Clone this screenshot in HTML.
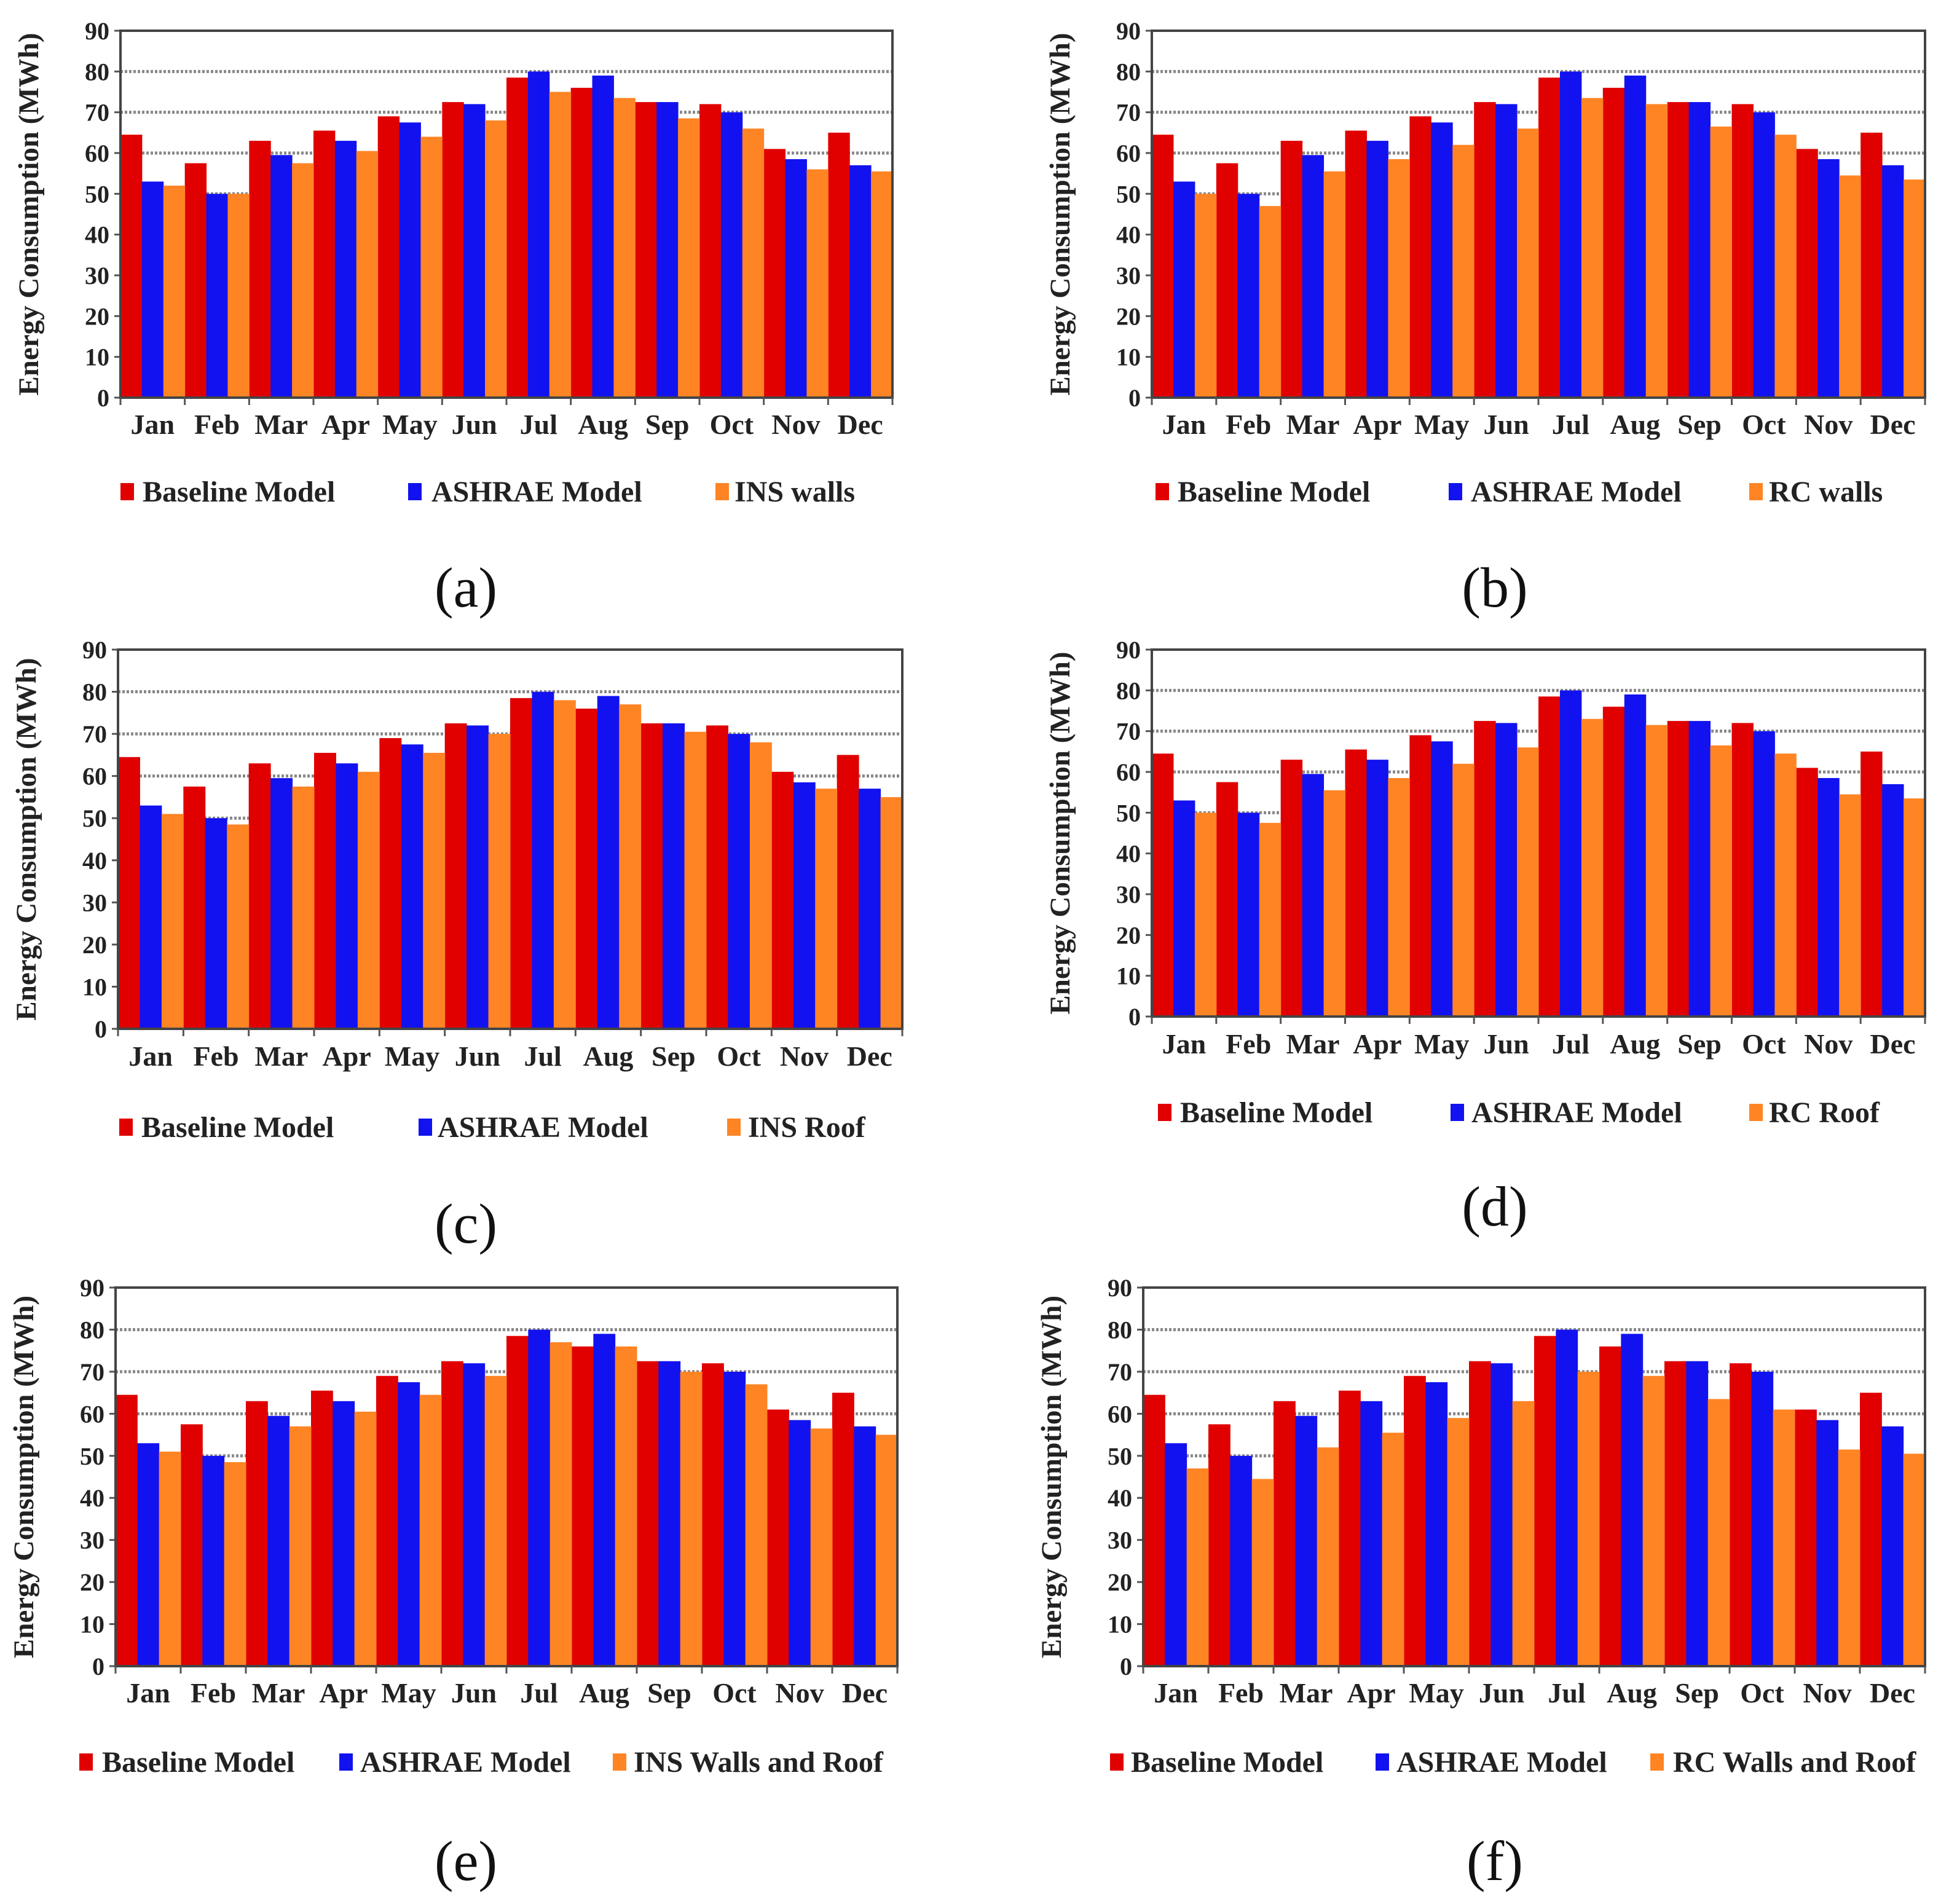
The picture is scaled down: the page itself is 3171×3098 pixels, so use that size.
<!DOCTYPE html>
<html><head><meta charset="utf-8"><style>
html,body{margin:0;padding:0;background:#fff}
svg{display:block}
text{font-family:"Liberation Serif",serif}
</style></head><body>
<svg id="fig" width="3171" height="3098" viewBox="0 0 3171 3098" xmlns="http://www.w3.org/2000/svg"></svg>
<script>
const months = ["Jan","Feb","Mar","Apr","May","Jun","Jul","Aug","Sep","Oct","Nov","Dec"];
const yTicks = [0,10,20,30,40,50,60,70,80,90];
const baseline = [64.5,57.5,63,65.5,69,72.5,78.5,76,72.5,72,61,65];
const ashrae = [53,50,59.5,63,67.5,72,80,79,72.5,70,58.5,57];
const insWalls = [52,50,57.5,60.5,64,68,75,73.5,68.5,66,56,55.5];
const rcWalls = [50,47,55.5,58.5,62,66,73.5,72,66.5,64.5,54.5,53.5];
const insRoof = [51,48.5,57.5,61,65.5,70,78,77,70.5,68,57,55];
const rcRoof = [50,47.5,55.5,58.5,62,66,73,71.5,66.5,64.5,54.5,53.5];
const insWallsRoof = [51,48.5,57,60.5,64.5,69,77,76,70,67,56.5,55];
const rcWallsRoof = [47,44.5,52,55.5,59,63,70,69,63.5,61,51.5,50.5];

const panels = [
 {id:"a",x0:196,x1:1452,y0:50,y1:647,third:insWalls,name:"INS  walls",leg:[[196,232],[664,702],[1164,1195]],legY:800,capX:758,capY:955,monY:690},
 {id:"b",x0:1874,x1:3132,y0:50,y1:647,third:rcWalls,name:"RC walls",leg:[[1880,1916],[2357,2393],[2846,2878]],legY:800,capX:2432,capY:955,monY:690},
 {id:"c",x0:192,x1:1468,y0:1057,y1:1674,third:insRoof,name:"INS Roof",leg:[[194,230],[681,712],[1183,1217]],legY:1834,capX:758,capY:1990,monY:1718},
 {id:"d",x0:1874,x1:3132,y0:1057,y1:1654,third:rcRoof,name:"RC Roof",leg:[[1884,1920],[2360,2394],[2846,2878]],legY:1810,capX:2432,capY:1962,monY:1698},
 {id:"e",x0:188,x1:1460,y0:2095,y1:2711,third:insWallsRoof,name:"INS Walls and Roof",leg:[[129,166],[552,586],[997,1031]],legY:2867,capX:758,capY:3027,monY:2754},
 {id:"f",x0:1860,x1:3132,y0:2095,y1:2711,third:rcWallsRoof,name:"RC Walls and Roof",leg:[[1806,1840],[2238,2272],[2685,2722]],legY:2867,capX:2432,capY:3027,monY:2754}
];
const colors = ["#e00000","#1212f0","#ff8424"];
const NS = "http://www.w3.org/2000/svg";
const svg = document.getElementById("fig");
function mk(tag, attrs, parent){const e=document.createElementNS(NS,tag);for(const k in attrs)e.setAttribute(k,attrs[k]);(parent||svg).appendChild(e);return e;}

panels.forEach(p=>{
  const g = mk("g",{});
  
  
  const yScale = v => p.y1 - (v/90)*(p.y1-p.y0);
  const gw = (p.x1-p.x0)/12;
  const xBand = i => p.x0 + i*gw;
  yTicks.forEach(t=>{
    if(t>0 && t<90){
      const l = mk("line",{x1:p.x0,x2:p.x1,y1:yScale(t),y2:yScale(t),stroke:"#888","stroke-width":5,"stroke-dasharray":"4,3"},g);
      
      
    }
    const tl = mk("text",{x:p.x0-18,y:yScale(t)+14,"text-anchor":"end","font-size":40,"font-weight":"bold",fill:"#222"},g);
    tl.textContent = t;
    
    
    const tk = mk("line",{x1:p.x0-10,x2:p.x0,y1:yScale(t),y2:yScale(t),stroke:"#555","stroke-width":3},g);
    
    
  });
  const series = [baseline, ashrae, p.third];
  series.forEach((s,si)=>{
    s.forEach((v,i)=>{
      const r = mk("rect",{x:xBand(i)+si*gw/3,y:yScale(v),width:gw/3+0.5,height:yScale(0)-yScale(v),fill:colors[si]},g);
      
      
    });
  });
  const fr = mk("rect",{x:p.x0,y:p.y0,width:p.x1-p.x0,height:p.y1-p.y0,fill:"none",stroke:"#444","stroke-width":4},g);
  
  
  months.forEach((m,i)=>{
    const tk = mk("line",{x1:xBand(i),x2:xBand(i),y1:p.y1,y2:p.y1+12,stroke:"#555","stroke-width":3},g);
    
    
    const t = mk("text",{x:xBand(i)+gw/2,y:p.monY+16,"text-anchor":"middle","font-size":46,"font-weight":"bold",fill:"#222"},g);
    t.textContent = m;
    
    
  });
  const tkEnd = mk("line",{x1:p.x1,x2:p.x1,y1:p.y1,y2:p.y1+12,stroke:"#555","stroke-width":3},g);
  
  
  const cy = (p.y0+p.y1)/2;
  const yt = mk("text",{x:0,y:0,transform:`translate(${p.x0-134},${cy}) rotate(-90)`,"text-anchor":"middle","font-size":47,"font-weight":"bold",fill:"#222"},g);
  yt.textContent = "Energy Consumption (MWh)";
  
  
  const names = ["Baseline Model","ASHRAE Model",p.name];
  names.forEach((n,k)=>{
    const sq = mk("rect",{x:p.leg[k][0],y:p.legY-14,width:22,height:28,fill:colors[k]},g);
    
    
    const t = mk("text",{x:p.leg[k][1],y:p.legY+16,"font-size":48,"font-weight":"bold",fill:"#222","xml:space":"preserve"},g);
    t.textContent = n;
    
    
  });
  const cap = mk("text",{x:p.capX,y:p.capY+32,"text-anchor":"middle","font-size":92,fill:"#111"},g);
  cap.textContent = "("+p.id+")";
  
  
});
</script>
</body></html>
